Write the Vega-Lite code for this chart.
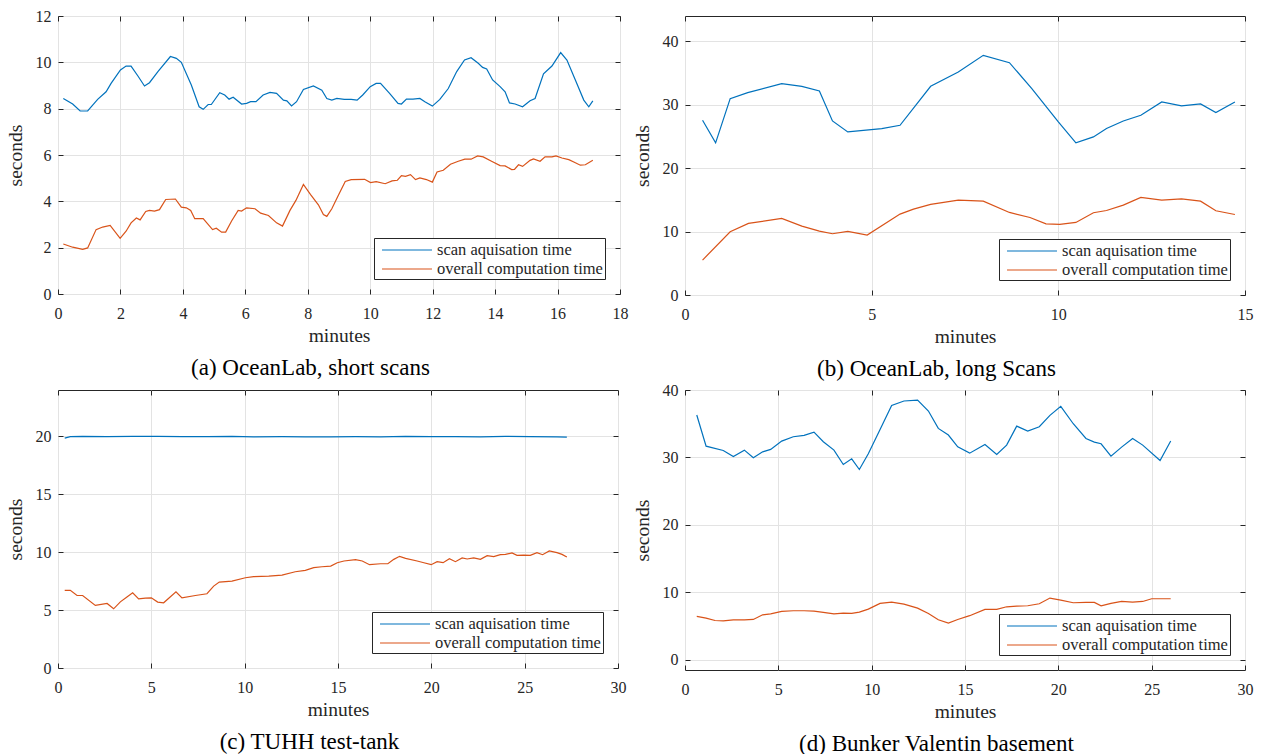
{
  "$schema": "https://vega.github.io/schema/vega-lite/v6.json",
  "padding": {"left": 4, "top": 7, "right": 0, "bottom": 0},
  "background": "white",
  "columns": 2,
  "spacing": {"row": 0, "column": 2},
  "resolve": {"scale": {"color": "independent"}, "legend": {"color": "independent"}},
  "config": {
    "font": "Liberation Serif",
    "view": {"stroke": "#262626", "strokeWidth": 1},
    "axis": {"domain": false, "tickColor": "#262626", "labelColor": "#262626", "titleColor": "#262626", "labelFont": "Liberation Serif", "titleFont": "Liberation Serif", "labelFontSize": 16, "titleFontSize": 19.5, "titleFontWeight": "normal", "gridColor": "#e3e3e3", "gridWidth": 1, "tickSize": -5, "labelPadding": 12, "labelFlush": false, "labelOverlap": false},
    "axisX": {"labelPadding": 16},
    "legend": {"orient": "bottom-right", "offset": 15, "strokeColor": "#262626", "fillColor": "white", "padding": 1.5, "labelFont": "Liberation Serif", "labelFontSize": 16.5, "labelColor": "#262626", "labelLimit": 400, "symbolType": "M-2.63,0H2.63", "symbolSize": 361, "symbolOffset": 21, "symbolStrokeWidth": 1.2, "labelOffset": 19.5, "rowPadding": 0},
    "title": {"font": "Liberation Serif", "fontSize": 23, "fontWeight": "normal", "color": "#000000", "orient": "bottom", "anchor": "middle", "frame": "bounds", "offset": 12, "dx": -6}
  },
  "datasets": {
    "a": [
      {"m":0.17,"s":8.44,"k":"scan aquisation time"},{"m":0.47,"s":8.2,"k":"scan aquisation time"},{"m":0.71,"s":7.9,"k":"scan aquisation time"},{"m":0.95,"s":7.9,"k":"scan aquisation time"},{"m":1.27,"s":8.4,"k":"scan aquisation time"},{"m":1.54,"s":8.73,"k":"scan aquisation time"},{"m":1.7,"s":9.09,"k":"scan aquisation time"},{"m":2.0,"s":9.67,"k":"scan aquisation time"},{"m":2.18,"s":9.84,"k":"scan aquisation time"},{"m":2.34,"s":9.84,"k":"scan aquisation time"},{"m":2.56,"s":9.41,"k":"scan aquisation time"},{"m":2.77,"s":8.98,"k":"scan aquisation time"},{"m":2.93,"s":9.12,"k":"scan aquisation time"},{"m":3.2,"s":9.6,"k":"scan aquisation time"},{"m":3.6,"s":10.25,"k":"scan aquisation time"},{"m":3.79,"s":10.17,"k":"scan aquisation time"},{"m":3.95,"s":10.0,"k":"scan aquisation time"},{"m":4.27,"s":9.02,"k":"scan aquisation time"},{"m":4.52,"s":8.08,"k":"scan aquisation time"},{"m":4.65,"s":7.97,"k":"scan aquisation time"},{"m":4.81,"s":8.18,"k":"scan aquisation time"},{"m":4.91,"s":8.18,"k":"scan aquisation time"},{"m":5.18,"s":8.69,"k":"scan aquisation time"},{"m":5.34,"s":8.59,"k":"scan aquisation time"},{"m":5.48,"s":8.41,"k":"scan aquisation time"},{"m":5.61,"s":8.49,"k":"scan aquisation time"},{"m":5.88,"s":8.2,"k":"scan aquisation time"},{"m":6.04,"s":8.23,"k":"scan aquisation time"},{"m":6.17,"s":8.3,"k":"scan aquisation time"},{"m":6.34,"s":8.3,"k":"scan aquisation time"},{"m":6.57,"s":8.59,"k":"scan aquisation time"},{"m":6.79,"s":8.7,"k":"scan aquisation time"},{"m":7.0,"s":8.66,"k":"scan aquisation time"},{"m":7.22,"s":8.37,"k":"scan aquisation time"},{"m":7.33,"s":8.34,"k":"scan aquisation time"},{"m":7.48,"s":8.12,"k":"scan aquisation time"},{"m":7.64,"s":8.3,"k":"scan aquisation time"},{"m":7.86,"s":8.83,"k":"scan aquisation time"},{"m":8.18,"s":8.98,"k":"scan aquisation time"},{"m":8.45,"s":8.8,"k":"scan aquisation time"},{"m":8.61,"s":8.44,"k":"scan aquisation time"},{"m":8.77,"s":8.37,"k":"scan aquisation time"},{"m":8.93,"s":8.44,"k":"scan aquisation time"},{"m":9.17,"s":8.4,"k":"scan aquisation time"},{"m":9.39,"s":8.4,"k":"scan aquisation time"},{"m":9.58,"s":8.37,"k":"scan aquisation time"},{"m":9.76,"s":8.59,"k":"scan aquisation time"},{"m":10.0,"s":8.95,"k":"scan aquisation time"},{"m":10.19,"s":9.09,"k":"scan aquisation time"},{"m":10.33,"s":9.09,"k":"scan aquisation time"},{"m":10.62,"s":8.66,"k":"scan aquisation time"},{"m":10.89,"s":8.23,"k":"scan aquisation time"},{"m":11.0,"s":8.2,"k":"scan aquisation time"},{"m":11.16,"s":8.41,"k":"scan aquisation time"},{"m":11.37,"s":8.41,"k":"scan aquisation time"},{"m":11.59,"s":8.44,"k":"scan aquisation time"},{"m":11.75,"s":8.3,"k":"scan aquisation time"},{"m":11.99,"s":8.11,"k":"scan aquisation time"},{"m":12.23,"s":8.4,"k":"scan aquisation time"},{"m":12.5,"s":8.87,"k":"scan aquisation time"},{"m":12.77,"s":9.6,"k":"scan aquisation time"},{"m":13.02,"s":10.1,"k":"scan aquisation time"},{"m":13.23,"s":10.2,"k":"scan aquisation time"},{"m":13.46,"s":9.96,"k":"scan aquisation time"},{"m":13.6,"s":9.78,"k":"scan aquisation time"},{"m":13.73,"s":9.71,"k":"scan aquisation time"},{"m":13.92,"s":9.24,"k":"scan aquisation time"},{"m":14.16,"s":8.95,"k":"scan aquisation time"},{"m":14.32,"s":8.73,"k":"scan aquisation time"},{"m":14.46,"s":8.25,"k":"scan aquisation time"},{"m":14.64,"s":8.2,"k":"scan aquisation time"},{"m":14.88,"s":8.08,"k":"scan aquisation time"},{"m":15.12,"s":8.34,"k":"scan aquisation time"},{"m":15.28,"s":8.44,"k":"scan aquisation time"},{"m":15.55,"s":9.5,"k":"scan aquisation time"},{"m":15.82,"s":9.84,"k":"scan aquisation time"},{"m":16.1,"s":10.42,"k":"scan aquisation time"},{"m":16.3,"s":10.1,"k":"scan aquisation time"},{"m":16.57,"s":9.24,"k":"scan aquisation time"},{"m":16.84,"s":8.37,"k":"scan aquisation time"},{"m":17.0,"s":8.08,"k":"scan aquisation time"},{"m":17.13,"s":8.34,"k":"scan aquisation time"},
      {"m":0.17,"s":2.16,"k":"overall computation time"},{"m":0.47,"s":2.02,"k":"overall computation time"},{"m":0.79,"s":1.93,"k":"overall computation time"},{"m":0.95,"s":1.99,"k":"overall computation time"},{"m":1.22,"s":2.78,"k":"overall computation time"},{"m":1.43,"s":2.89,"k":"overall computation time"},{"m":1.67,"s":2.96,"k":"overall computation time"},{"m":1.99,"s":2.4,"k":"overall computation time"},{"m":2.18,"s":2.71,"k":"overall computation time"},{"m":2.34,"s":3.07,"k":"overall computation time"},{"m":2.51,"s":3.28,"k":"overall computation time"},{"m":2.63,"s":3.2,"k":"overall computation time"},{"m":2.81,"s":3.56,"k":"overall computation time"},{"m":2.93,"s":3.61,"k":"overall computation time"},{"m":3.09,"s":3.58,"k":"overall computation time"},{"m":3.25,"s":3.64,"k":"overall computation time"},{"m":3.45,"s":4.08,"k":"overall computation time"},{"m":3.76,"s":4.1,"k":"overall computation time"},{"m":3.95,"s":3.75,"k":"overall computation time"},{"m":4.11,"s":3.72,"k":"overall computation time"},{"m":4.25,"s":3.61,"k":"overall computation time"},{"m":4.38,"s":3.25,"k":"overall computation time"},{"m":4.65,"s":3.25,"k":"overall computation time"},{"m":4.95,"s":2.78,"k":"overall computation time"},{"m":5.07,"s":2.84,"k":"overall computation time"},{"m":5.24,"s":2.67,"k":"overall computation time"},{"m":5.37,"s":2.67,"k":"overall computation time"},{"m":5.56,"s":3.15,"k":"overall computation time"},{"m":5.77,"s":3.61,"k":"overall computation time"},{"m":5.88,"s":3.58,"k":"overall computation time"},{"m":6.04,"s":3.72,"k":"overall computation time"},{"m":6.31,"s":3.68,"k":"overall computation time"},{"m":6.49,"s":3.49,"k":"overall computation time"},{"m":6.74,"s":3.39,"k":"overall computation time"},{"m":7.0,"s":3.07,"k":"overall computation time"},{"m":7.19,"s":2.93,"k":"overall computation time"},{"m":7.43,"s":3.61,"k":"overall computation time"},{"m":7.62,"s":4.04,"k":"overall computation time"},{"m":7.86,"s":4.73,"k":"overall computation time"},{"m":8.09,"s":4.29,"k":"overall computation time"},{"m":8.34,"s":3.85,"k":"overall computation time"},{"m":8.5,"s":3.43,"k":"overall computation time"},{"m":8.61,"s":3.35,"k":"overall computation time"},{"m":8.77,"s":3.68,"k":"overall computation time"},{"m":8.98,"s":4.26,"k":"overall computation time"},{"m":9.2,"s":4.86,"k":"overall computation time"},{"m":9.39,"s":4.94,"k":"overall computation time"},{"m":9.82,"s":4.95,"k":"overall computation time"},{"m":10.01,"s":4.81,"k":"overall computation time"},{"m":10.19,"s":4.85,"k":"overall computation time"},{"m":10.48,"s":4.76,"k":"overall computation time"},{"m":10.7,"s":4.88,"k":"overall computation time"},{"m":10.87,"s":4.91,"k":"overall computation time"},{"m":11.0,"s":5.11,"k":"overall computation time"},{"m":11.13,"s":5.08,"k":"overall computation time"},{"m":11.29,"s":5.15,"k":"overall computation time"},{"m":11.45,"s":4.94,"k":"overall computation time"},{"m":11.59,"s":5.01,"k":"overall computation time"},{"m":11.8,"s":4.94,"k":"overall computation time"},{"m":11.99,"s":4.83,"k":"overall computation time"},{"m":12.14,"s":5.27,"k":"overall computation time"},{"m":12.34,"s":5.34,"k":"overall computation time"},{"m":12.57,"s":5.6,"k":"overall computation time"},{"m":12.82,"s":5.73,"k":"overall computation time"},{"m":13.03,"s":5.82,"k":"overall computation time"},{"m":13.23,"s":5.82,"k":"overall computation time"},{"m":13.44,"s":5.96,"k":"overall computation time"},{"m":13.62,"s":5.92,"k":"overall computation time"},{"m":13.87,"s":5.74,"k":"overall computation time"},{"m":14.16,"s":5.54,"k":"overall computation time"},{"m":14.32,"s":5.53,"k":"overall computation time"},{"m":14.53,"s":5.37,"k":"overall computation time"},{"m":14.62,"s":5.38,"k":"overall computation time"},{"m":14.75,"s":5.58,"k":"overall computation time"},{"m":14.88,"s":5.51,"k":"overall computation time"},{"m":15.12,"s":5.77,"k":"overall computation time"},{"m":15.23,"s":5.83,"k":"overall computation time"},{"m":15.44,"s":5.73,"k":"overall computation time"},{"m":15.6,"s":5.92,"k":"overall computation time"},{"m":15.82,"s":5.92,"k":"overall computation time"},{"m":15.95,"s":5.96,"k":"overall computation time"},{"m":16.14,"s":5.87,"k":"overall computation time"},{"m":16.36,"s":5.8,"k":"overall computation time"},{"m":16.52,"s":5.7,"k":"overall computation time"},{"m":16.73,"s":5.56,"k":"overall computation time"},{"m":16.89,"s":5.58,"k":"overall computation time"},{"m":17.13,"s":5.77,"k":"overall computation time"}
    ],
    "b": [
      {"m":0.47,"s":27.56,"k":"scan aquisation time"},{"m":0.82,"s":23.99,"k":"scan aquisation time"},{"m":1.21,"s":30.97,"k":"scan aquisation time"},{"m":1.68,"s":31.92,"k":"scan aquisation time"},{"m":2.59,"s":33.33,"k":"scan aquisation time"},{"m":3.13,"s":32.91,"k":"scan aquisation time"},{"m":3.6,"s":32.18,"k":"scan aquisation time"},{"m":3.95,"s":27.45,"k":"scan aquisation time"},{"m":4.36,"s":25.72,"k":"scan aquisation time"},{"m":5.27,"s":26.25,"k":"scan aquisation time"},{"m":5.76,"s":26.77,"k":"scan aquisation time"},{"m":6.58,"s":32.91,"k":"scan aquisation time"},{"m":7.32,"s":35.17,"k":"scan aquisation time"},{"m":7.99,"s":37.8,"k":"scan aquisation time"},{"m":8.69,"s":36.64,"k":"scan aquisation time"},{"m":9.29,"s":32.55,"k":"scan aquisation time"},{"m":10.0,"s":27.3,"k":"scan aquisation time"},{"m":10.47,"s":23.99,"k":"scan aquisation time"},{"m":10.94,"s":24.93,"k":"scan aquisation time"},{"m":11.29,"s":26.25,"k":"scan aquisation time"},{"m":11.74,"s":27.45,"k":"scan aquisation time"},{"m":12.21,"s":28.35,"k":"scan aquisation time"},{"m":12.77,"s":30.45,"k":"scan aquisation time"},{"m":13.3,"s":29.82,"k":"scan aquisation time"},{"m":13.81,"s":30.13,"k":"scan aquisation time"},{"m":14.22,"s":28.77,"k":"scan aquisation time"},{"m":14.73,"s":30.45,"k":"scan aquisation time"},
      {"m":0.47,"s":5.51,"k":"overall computation time"},{"m":1.21,"s":9.97,"k":"overall computation time"},{"m":1.7,"s":11.29,"k":"overall computation time"},{"m":2.59,"s":12.07,"k":"overall computation time"},{"m":3.13,"s":10.87,"k":"overall computation time"},{"m":3.6,"s":10.08,"k":"overall computation time"},{"m":3.95,"s":9.66,"k":"overall computation time"},{"m":4.36,"s":10.03,"k":"overall computation time"},{"m":4.88,"s":9.45,"k":"overall computation time"},{"m":5.76,"s":12.76,"k":"overall computation time"},{"m":6.12,"s":13.54,"k":"overall computation time"},{"m":6.58,"s":14.28,"k":"overall computation time"},{"m":7.32,"s":14.96,"k":"overall computation time"},{"m":7.99,"s":14.8,"k":"overall computation time"},{"m":8.69,"s":13.02,"k":"overall computation time"},{"m":9.24,"s":12.23,"k":"overall computation time"},{"m":9.67,"s":11.23,"k":"overall computation time"},{"m":10.04,"s":11.13,"k":"overall computation time"},{"m":10.47,"s":11.44,"k":"overall computation time"},{"m":10.94,"s":12.97,"k":"overall computation time"},{"m":11.29,"s":13.33,"k":"overall computation time"},{"m":11.74,"s":14.17,"k":"overall computation time"},{"m":12.21,"s":15.38,"k":"overall computation time"},{"m":12.77,"s":14.96,"k":"overall computation time"},{"m":13.3,"s":15.17,"k":"overall computation time"},{"m":13.81,"s":14.8,"k":"overall computation time"},{"m":14.22,"s":13.28,"k":"overall computation time"},{"m":14.73,"s":12.7,"k":"overall computation time"}
    ],
    "c": [
      {"m":0.36,"s":19.85,"k":"scan aquisation time"},{"m":0.66,"s":19.97,"k":"scan aquisation time"},{"m":1.32,"s":20.0,"k":"scan aquisation time"},{"m":2.63,"s":19.97,"k":"scan aquisation time"},{"m":3.98,"s":20.0,"k":"scan aquisation time"},{"m":5.34,"s":20.0,"k":"scan aquisation time"},{"m":6.64,"s":19.98,"k":"scan aquisation time"},{"m":7.98,"s":19.97,"k":"scan aquisation time"},{"m":9.32,"s":19.99,"k":"scan aquisation time"},{"m":10.48,"s":19.96,"k":"scan aquisation time"},{"m":12.0,"s":19.97,"k":"scan aquisation time"},{"m":13.25,"s":19.95,"k":"scan aquisation time"},{"m":14.59,"s":19.96,"k":"scan aquisation time"},{"m":15.94,"s":19.97,"k":"scan aquisation time"},{"m":17.28,"s":19.96,"k":"scan aquisation time"},{"m":18.62,"s":19.99,"k":"scan aquisation time"},{"m":19.99,"s":19.97,"k":"scan aquisation time"},{"m":21.29,"s":19.98,"k":"scan aquisation time"},{"m":22.63,"s":19.96,"k":"scan aquisation time"},{"m":23.97,"s":19.99,"k":"scan aquisation time"},{"m":25.3,"s":19.98,"k":"scan aquisation time"},{"m":26.73,"s":19.96,"k":"scan aquisation time"},{"m":27.26,"s":19.94,"k":"scan aquisation time"},
      {"m":0.36,"s":6.7,"k":"overall computation time"},{"m":0.66,"s":6.7,"k":"overall computation time"},{"m":1.02,"s":6.26,"k":"overall computation time"},{"m":1.32,"s":6.26,"k":"overall computation time"},{"m":2.0,"s":5.4,"k":"overall computation time"},{"m":2.63,"s":5.57,"k":"overall computation time"},{"m":2.98,"s":5.11,"k":"overall computation time"},{"m":3.34,"s":5.71,"k":"overall computation time"},{"m":3.64,"s":6.06,"k":"overall computation time"},{"m":4.0,"s":6.49,"k":"overall computation time"},{"m":4.32,"s":5.97,"k":"overall computation time"},{"m":4.68,"s":6.03,"k":"overall computation time"},{"m":5.0,"s":6.06,"k":"overall computation time"},{"m":5.34,"s":5.69,"k":"overall computation time"},{"m":5.66,"s":5.63,"k":"overall computation time"},{"m":6.32,"s":6.58,"k":"overall computation time"},{"m":6.64,"s":6.06,"k":"overall computation time"},{"m":7.36,"s":6.26,"k":"overall computation time"},{"m":7.98,"s":6.41,"k":"overall computation time"},{"m":8.34,"s":7.07,"k":"overall computation time"},{"m":8.64,"s":7.42,"k":"overall computation time"},{"m":9.32,"s":7.5,"k":"overall computation time"},{"m":10.04,"s":7.79,"k":"overall computation time"},{"m":10.48,"s":7.88,"k":"overall computation time"},{"m":11.29,"s":7.94,"k":"overall computation time"},{"m":12.0,"s":8.02,"k":"overall computation time"},{"m":12.71,"s":8.31,"k":"overall computation time"},{"m":13.25,"s":8.43,"k":"overall computation time"},{"m":13.7,"s":8.66,"k":"overall computation time"},{"m":14.14,"s":8.74,"k":"overall computation time"},{"m":14.61,"s":8.8,"k":"overall computation time"},{"m":14.96,"s":9.09,"k":"overall computation time"},{"m":15.32,"s":9.24,"k":"overall computation time"},{"m":15.94,"s":9.35,"k":"overall computation time"},{"m":16.3,"s":9.24,"k":"overall computation time"},{"m":16.69,"s":8.92,"k":"overall computation time"},{"m":17.28,"s":9.0,"k":"overall computation time"},{"m":17.67,"s":9.0,"k":"overall computation time"},{"m":17.99,"s":9.38,"k":"overall computation time"},{"m":18.3,"s":9.64,"k":"overall computation time"},{"m":18.62,"s":9.47,"k":"overall computation time"},{"m":19.24,"s":9.24,"k":"overall computation time"},{"m":19.6,"s":9.09,"k":"overall computation time"},{"m":19.99,"s":8.92,"k":"overall computation time"},{"m":20.31,"s":9.18,"k":"overall computation time"},{"m":20.63,"s":9.09,"k":"overall computation time"},{"m":20.97,"s":9.44,"k":"overall computation time"},{"m":21.29,"s":9.18,"k":"overall computation time"},{"m":21.65,"s":9.5,"k":"overall computation time"},{"m":21.92,"s":9.41,"k":"overall computation time"},{"m":22.27,"s":9.5,"k":"overall computation time"},{"m":22.63,"s":9.38,"k":"overall computation time"},{"m":22.99,"s":9.7,"k":"overall computation time"},{"m":23.34,"s":9.61,"k":"overall computation time"},{"m":23.7,"s":9.78,"k":"overall computation time"},{"m":23.97,"s":9.81,"k":"overall computation time"},{"m":24.32,"s":9.93,"k":"overall computation time"},{"m":24.59,"s":9.73,"k":"overall computation time"},{"m":24.95,"s":9.75,"k":"overall computation time"},{"m":25.3,"s":9.73,"k":"overall computation time"},{"m":25.66,"s":9.96,"k":"overall computation time"},{"m":25.96,"s":9.78,"k":"overall computation time"},{"m":26.32,"s":10.1,"k":"overall computation time"},{"m":26.73,"s":9.96,"k":"overall computation time"},{"m":27.0,"s":9.81,"k":"overall computation time"},{"m":27.26,"s":9.58,"k":"overall computation time"}
    ],
    "d": [
      {"m":0.63,"s":36.29,"k":"scan aquisation time"},{"m":1.13,"s":31.68,"k":"scan aquisation time"},{"m":2.05,"s":31.04,"k":"scan aquisation time"},{"m":2.59,"s":30.15,"k":"scan aquisation time"},{"m":3.18,"s":31.09,"k":"scan aquisation time"},{"m":3.66,"s":29.95,"k":"scan aquisation time"},{"m":4.16,"s":30.84,"k":"scan aquisation time"},{"m":4.59,"s":31.19,"k":"scan aquisation time"},{"m":5.18,"s":32.43,"k":"scan aquisation time"},{"m":5.8,"s":33.07,"k":"scan aquisation time"},{"m":6.38,"s":33.27,"k":"scan aquisation time"},{"m":6.91,"s":33.76,"k":"scan aquisation time"},{"m":7.41,"s":32.33,"k":"scan aquisation time"},{"m":7.98,"s":31.09,"k":"scan aquisation time"},{"m":8.48,"s":28.96,"k":"scan aquisation time"},{"m":8.93,"s":29.8,"k":"scan aquisation time"},{"m":9.34,"s":28.22,"k":"scan aquisation time"},{"m":9.82,"s":30.54,"k":"scan aquisation time"},{"m":10.45,"s":34.16,"k":"scan aquisation time"},{"m":11.07,"s":37.72,"k":"scan aquisation time"},{"m":11.73,"s":38.37,"k":"scan aquisation time"},{"m":12.46,"s":38.51,"k":"scan aquisation time"},{"m":13.04,"s":36.88,"k":"scan aquisation time"},{"m":13.57,"s":34.31,"k":"scan aquisation time"},{"m":14.11,"s":33.32,"k":"scan aquisation time"},{"m":14.61,"s":31.58,"k":"scan aquisation time"},{"m":15.25,"s":30.64,"k":"scan aquisation time"},{"m":16.07,"s":31.93,"k":"scan aquisation time"},{"m":16.7,"s":30.45,"k":"scan aquisation time"},{"m":17.23,"s":31.83,"k":"scan aquisation time"},{"m":17.77,"s":34.65,"k":"scan aquisation time"},{"m":18.36,"s":33.91,"k":"scan aquisation time"},{"m":18.98,"s":34.55,"k":"scan aquisation time"},{"m":19.55,"s":36.24,"k":"scan aquisation time"},{"m":20.13,"s":37.57,"k":"scan aquisation time"},{"m":20.8,"s":35.0,"k":"scan aquisation time"},{"m":21.48,"s":32.82,"k":"scan aquisation time"},{"m":21.93,"s":32.28,"k":"scan aquisation time"},{"m":22.29,"s":32.03,"k":"scan aquisation time"},{"m":22.82,"s":30.2,"k":"scan aquisation time"},{"m":23.39,"s":31.53,"k":"scan aquisation time"},{"m":23.98,"s":32.82,"k":"scan aquisation time"},{"m":24.52,"s":31.83,"k":"scan aquisation time"},{"m":25.45,"s":29.55,"k":"scan aquisation time"},{"m":26.02,"s":32.43,"k":"scan aquisation time"},
      {"m":0.63,"s":6.44,"k":"overall computation time"},{"m":1.13,"s":6.19,"k":"overall computation time"},{"m":1.61,"s":5.84,"k":"overall computation time"},{"m":2.05,"s":5.79,"k":"overall computation time"},{"m":2.59,"s":5.94,"k":"overall computation time"},{"m":3.18,"s":5.94,"k":"overall computation time"},{"m":3.66,"s":5.99,"k":"overall computation time"},{"m":4.16,"s":6.68,"k":"overall computation time"},{"m":4.59,"s":6.83,"k":"overall computation time"},{"m":5.18,"s":7.18,"k":"overall computation time"},{"m":5.8,"s":7.28,"k":"overall computation time"},{"m":6.38,"s":7.28,"k":"overall computation time"},{"m":6.91,"s":7.23,"k":"overall computation time"},{"m":7.41,"s":7.03,"k":"overall computation time"},{"m":7.98,"s":6.83,"k":"overall computation time"},{"m":8.48,"s":6.93,"k":"overall computation time"},{"m":8.93,"s":6.88,"k":"overall computation time"},{"m":9.34,"s":7.08,"k":"overall computation time"},{"m":9.82,"s":7.52,"k":"overall computation time"},{"m":10.45,"s":8.37,"k":"overall computation time"},{"m":11.07,"s":8.56,"k":"overall computation time"},{"m":11.73,"s":8.27,"k":"overall computation time"},{"m":12.46,"s":7.67,"k":"overall computation time"},{"m":13.04,"s":6.88,"k":"overall computation time"},{"m":13.57,"s":5.94,"k":"overall computation time"},{"m":14.11,"s":5.45,"k":"overall computation time"},{"m":14.61,"s":5.99,"k":"overall computation time"},{"m":15.25,"s":6.55,"k":"overall computation time"},{"m":16.07,"s":7.48,"k":"overall computation time"},{"m":16.7,"s":7.48,"k":"overall computation time"},{"m":17.23,"s":7.87,"k":"overall computation time"},{"m":17.77,"s":7.97,"k":"overall computation time"},{"m":18.36,"s":8.02,"k":"overall computation time"},{"m":18.98,"s":8.32,"k":"overall computation time"},{"m":19.55,"s":9.16,"k":"overall computation time"},{"m":20.13,"s":8.86,"k":"overall computation time"},{"m":20.8,"s":8.47,"k":"overall computation time"},{"m":21.48,"s":8.51,"k":"overall computation time"},{"m":21.93,"s":8.51,"k":"overall computation time"},{"m":22.29,"s":8.02,"k":"overall computation time"},{"m":22.82,"s":8.37,"k":"overall computation time"},{"m":23.39,"s":8.66,"k":"overall computation time"},{"m":23.98,"s":8.56,"k":"overall computation time"},{"m":24.52,"s":8.66,"k":"overall computation time"},{"m":25.0,"s":9.06,"k":"overall computation time"},{"m":25.45,"s":9.06,"k":"overall computation time"},{"m":26.02,"s":9.06,"k":"overall computation time"}
    ]
  },
  "concat": [
    {
      "width": 562, "height": 278,
      "data": {"name": "a"},
      "title": {"text": "(a) OceanLab, short scans"},
      "layer": [
        {"mark": {"type": "line", "strokeWidth": 1.2},
         "encoding": {
           "x": {"field": "m", "type": "quantitative", "scale": {"domain": [0, 18], "nice": false}, "axis": {"values": [0,2,4,6,8,10,12,14,16,18], "title": "minutes", "titlePadding": 5}},
           "y": {"field": "s", "type": "quantitative", "scale": {"domain": [0, 12], "nice": false}, "axis": {"values": [0,2,4,6,8,10,12], "title": "seconds", "titlePadding": 10}},
           "color": {"field": "k", "type": "nominal", "scale": {"domain": ["scan aquisation time", "overall computation time"], "range": ["#0072BD", "#D95319"]}, "legend": {"title": null}}
         }},
        {"mark": {"type": "line", "opacity": 0},
         "encoding": {
           "x": {"field": "m", "type": "quantitative", "scale": {"domain": [0, 18], "nice": false}, "axis": {"orient": "top", "values": [0,2,4,6,8,10,12,14,16,18], "labels": false, "title": null, "grid": false}},
           "y": {"field": "s", "type": "quantitative", "scale": {"domain": [0, 12], "nice": false}, "axis": {"orient": "right", "values": [0,2,4,6,8,10,12], "labels": false, "title": null, "grid": false}},
           "detail": {"field": "k"}
         }}
      ],
      "resolve": {"axis": {"x": "independent", "y": "independent"}}
    },
    {
      "width": 560, "height": 279,
      "data": {"name": "b"},
      "title": {"text": "(b) OceanLab, long Scans"},
      "layer": [
        {"mark": {"type": "line", "strokeWidth": 1.2},
         "encoding": {
           "x": {"field": "m", "type": "quantitative", "scale": {"domain": [0, 15], "nice": false}, "axis": {"values": [0,5,10,15], "title": "minutes", "titlePadding": 5}},
           "y": {"field": "s", "type": "quantitative", "scale": {"domain": [0, 44], "nice": false}, "axis": {"values": [0,10,20,30,40], "title": "seconds", "titlePadding": 10}},
           "color": {"field": "k", "type": "nominal", "scale": {"domain": ["scan aquisation time", "overall computation time"], "range": ["#0072BD", "#D95319"]}, "legend": {"title": null}}
         }},
        {"mark": {"type": "line", "opacity": 0},
         "encoding": {
           "x": {"field": "m", "type": "quantitative", "scale": {"domain": [0, 15], "nice": false}, "axis": {"orient": "top", "values": [0,5,10,15], "labels": false, "title": null, "grid": false}},
           "y": {"field": "s", "type": "quantitative", "scale": {"domain": [0, 44], "nice": false}, "axis": {"orient": "right", "values": [0,10,20,30,40], "labels": false, "title": null, "grid": false}},
           "detail": {"field": "k"}
         }}
      ],
      "resolve": {"axis": {"x": "independent", "y": "independent"}}
    },
    {
      "width": 560, "height": 278,
      "data": {"name": "c"},
      "title": {"text": "(c) TUHH test-tank"},
      "layer": [
        {"mark": {"type": "line", "strokeWidth": 1.2},
         "encoding": {
           "x": {"field": "m", "type": "quantitative", "scale": {"domain": [0, 30], "nice": false}, "axis": {"values": [0,5,10,15,20,25,30], "title": "minutes", "titlePadding": 5}},
           "y": {"field": "s", "type": "quantitative", "scale": {"domain": [0, 24], "nice": false}, "axis": {"values": [0,5,10,15,20], "title": "seconds", "titlePadding": 10}},
           "color": {"field": "k", "type": "nominal", "scale": {"domain": ["scan aquisation time", "overall computation time"], "range": ["#0072BD", "#D95319"]}, "legend": {"title": null}}
         }},
        {"mark": {"type": "line", "opacity": 0},
         "encoding": {
           "x": {"field": "m", "type": "quantitative", "scale": {"domain": [0, 30], "nice": false}, "axis": {"orient": "top", "values": [0,5,10,15,20,25,30], "labels": false, "title": null, "grid": false}},
           "y": {"field": "s", "type": "quantitative", "scale": {"domain": [0, 24], "nice": false}, "axis": {"orient": "right", "values": [0,5,10,15,20], "labels": false, "title": null, "grid": false}},
           "detail": {"field": "k"}
         }}
      ],
      "resolve": {"axis": {"x": "independent", "y": "independent"}}
    },
    {
      "width": 560, "height": 280,
      "data": {"name": "d"},
      "title": {"text": "(d) Bunker Valentin basement"},
      "layer": [
        {"mark": {"type": "line", "strokeWidth": 1.2},
         "encoding": {
           "x": {"field": "m", "type": "quantitative", "scale": {"domain": [0, 30], "nice": false}, "axis": {"values": [0,5,10,15,20,25,30], "title": "minutes", "titlePadding": 5}},
           "y": {"field": "s", "type": "quantitative", "scale": {"domain": [-1.5, 40], "nice": false, "zero": false}, "axis": {"values": [0,10,20,30,40], "title": "seconds", "titlePadding": 10}},
           "color": {"field": "k", "type": "nominal", "scale": {"domain": ["scan aquisation time", "overall computation time"], "range": ["#0072BD", "#D95319"]}, "legend": {"title": null}}
         }},
        {"mark": {"type": "line", "opacity": 0},
         "encoding": {
           "x": {"field": "m", "type": "quantitative", "scale": {"domain": [0, 30], "nice": false}, "axis": {"orient": "top", "values": [0,5,10,15,20,25,30], "labels": false, "title": null, "grid": false}},
           "y": {"field": "s", "type": "quantitative", "scale": {"domain": [-1.5, 40], "nice": false, "zero": false}, "axis": {"orient": "right", "values": [0,10,20,30,40], "labels": false, "title": null, "grid": false}},
           "detail": {"field": "k"}
         }}
      ],
      "resolve": {"axis": {"x": "independent", "y": "independent"}}
    }
  ]
}
